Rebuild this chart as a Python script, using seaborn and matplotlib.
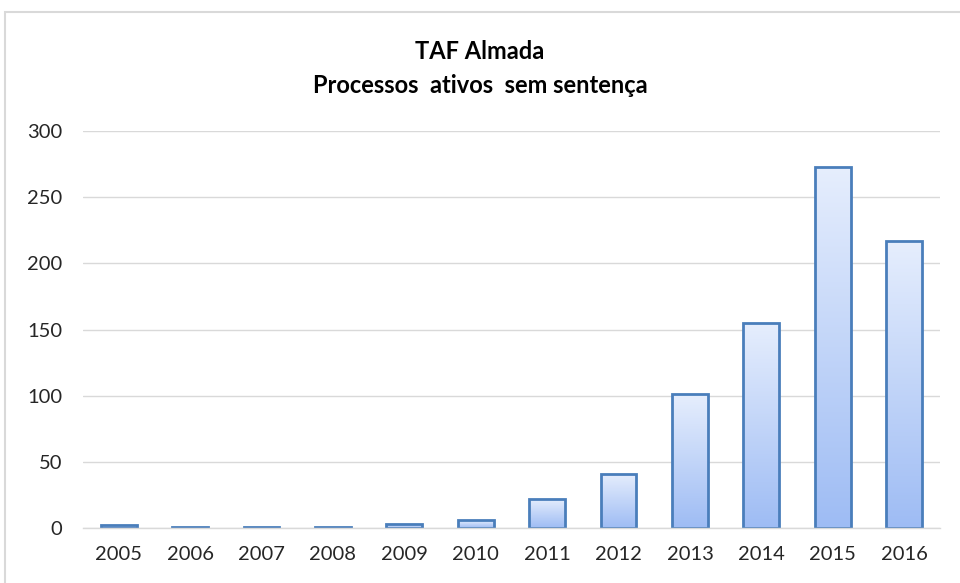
import matplotlib.pyplot as plt
import matplotlib.patches as mpatches
from matplotlib.colors import LinearSegmentedColormap
import numpy as np
import pandas as pd
import seaborn as sns

# Dados
anos = ["2005", "2006", "2007", "2008", "2009", "2010",
        "2011", "2012", "2013", "2014", "2015", "2016"]
processos = [2, 1, 1, 1, 3, 6, 22, 41, 101, 155, 273, 217]

df = pd.DataFrame({"ano": anos, "processos": processos})

sns.set_theme(style="white")
plt.rcParams["font.family"] = ["Lato", "DejaVu Sans"]

fig = plt.figure(figsize=(9.6, 5.83), dpi=100)
ax = fig.add_axes([0.0865, 0.0943, 0.8925, 0.681])

sns.barplot(data=df, x="ano", y="processos", ax=ax, width=0.5,
            color="#c9dbf9", edgecolor="#4a7ebb", linewidth=2)

# gradiente nas barras
cmap = LinearSegmentedColormap.from_list("grad", ["#e6eefd", "#9ebcf4"])
grad = np.linspace(0, 1, 256).reshape(-1, 1)
for p in ax.patches:
    x0, y0 = p.get_x(), p.get_y()
    w, h = p.get_width(), p.get_height()
    if h <= 0:
        continue
    im = ax.imshow(grad, cmap=cmap, aspect="auto", origin="upper",
                   extent=[x0, x0 + w, y0, y0 + h], zorder=p.get_zorder() - 0.1)
    im.set_clip_path(p)
    p.set_facecolor("none")

ax.set_xlim(-0.5, len(anos) - 0.5)
ax.set_ylim(0, 300)
ax.set_yticks(range(0, 301, 50))
ax.yaxis.grid(True, color="#d9d9d9", linewidth=1)
ax.set_axisbelow(True)
for s in ["top", "right", "left"]:
    ax.spines[s].set_visible(False)
ax.spines["bottom"].set_color("#d9d9d9")
ax.spines["bottom"].set_linewidth(1)
ax.tick_params(axis="both", length=0, labelsize=14.5, colors="#262626")
ax.tick_params(axis="y", pad=15)
ax.tick_params(axis="x", pad=13)
ax.set_xlabel("")
ax.set_ylabel("")

fig.text(0.5, 0.912, "TAF Almada", ha="center", va="center",
         fontsize=17, fontweight="bold", color="#000000")
fig.text(0.5, 0.854, "Processos  ativos  sem sentença", ha="center", va="center",
         fontsize=17, fontweight="bold", color="#000000")

# moldura do gráfico
fig.patches.append(mpatches.Rectangle((5 / 960, -0.01), 1.0, 1 - 12 / 583 + 0.01,
                                      transform=fig.transFigure, fill=False,
                                      edgecolor="#d9d9d9", linewidth=1.5))

fig.savefig("out.png", dpi=100, facecolor="white")
